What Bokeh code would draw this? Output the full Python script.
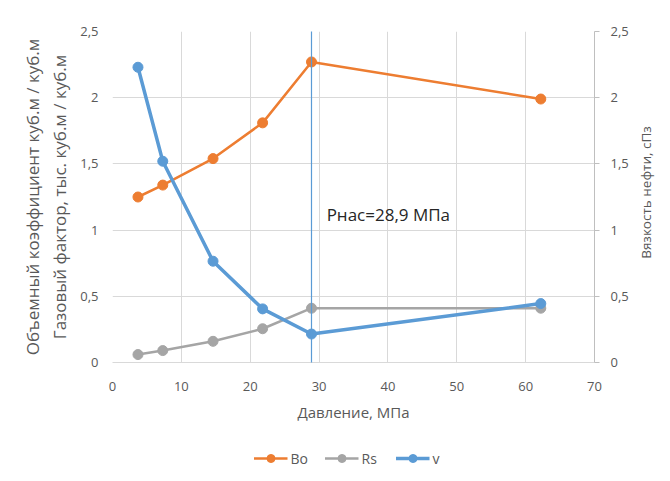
import math
from bokeh.plotting import figure
from bokeh.layouts import column, row
from bokeh.models import (Range1d, LinearAxis, Legend, LegendItem, Label, Arrow,
                          CustomJSTickFormatter, FixedTicker)
from bokeh.embed import file_html
from bokeh.resources import INLINE

# data
pressure = [3.7, 7.3, 14.6, 21.8, 28.9, 62.2]
bo = [1.25, 1.34, 1.54, 1.81, 2.27, 1.99]
rs = [0.06, 0.09, 0.16, 0.255, 0.41, 0.41]
visc = [2.23, 1.52, 0.765, 0.405, 0.215, 0.445]
p_sat = 28.9
x_ticks = [0, 10, 20, 30, 40, 50, 60, 70]
y_ticks = [0, 0.5, 1, 1.5, 2, 2.5]
series_names = ["Bo", "Rs", "v"]

FONT = "Open Sans"
TXT = "#595959"
ORANGE = "#ED7D31"
GRAY = "#A5A5A5"
BLUE = "#5B9BD5"

p = figure(width=632, height=424, output_backend="svg", toolbar_location=None,
           x_range=Range1d(0, 70), y_range=Range1d(0, 2.5),
           min_border_left=112, min_border_right=38, min_border_top=31,
           min_border_bottom=62)
p.extra_y_ranges = {"v": Range1d(0, 2.5)}
p.outline_line_color = None

fmt = CustomJSTickFormatter(code="return tick.toString().replace('.', ',');")

# x axis
xa = p.xaxis[0]
xa.ticker = FixedTicker(ticks=x_ticks)
xa.axis_line_color = "#d9d9d9"
xa.major_tick_line_color = None
xa.minor_tick_line_color = None
xa.major_label_standoff = 13
xa.major_label_text_font = FONT
xa.major_label_text_font_size = "13px"
xa.major_label_text_color = TXT
xa.axis_label = "Давление, МПа"
xa.axis_label_text_font = FONT
xa.axis_label_text_font_size = "15px"
xa.axis_label_text_font_style = "normal"
xa.axis_label_text_color = TXT
xa.axis_label_standoff = 8

# left y axis
ya = p.yaxis[0]
ya.ticker = FixedTicker(ticks=y_ticks)
ya.formatter = fmt
ya.axis_line_color = None
ya.major_tick_line_color = None
ya.minor_tick_line_color = None
ya.major_label_standoff = 8
ya.major_label_text_font = FONT
ya.major_label_text_font_size = "13px"
ya.major_label_text_color = TXT
ya.axis_label = "Объемный коэффициент куб.м / куб.м\nГазовый фактор, тыс. куб.м / куб.м"
ya.axis_label_text_font = FONT
ya.axis_label_text_font_size = "17px"
ya.axis_label_text_font_style = "normal"
ya.axis_label_text_color = TXT
ya.axis_label_standoff = 6

# right y axis (its title is drawn in a narrow strip to the right)
ra = LinearAxis(y_range_name="v", ticker=FixedTicker(ticks=y_ticks), formatter=fmt)
ra.axis_line_color = "#bfbfbf"
ra.major_tick_line_color = "#bfbfbf"
ra.major_tick_in = 0
ra.major_tick_out = 5
ra.minor_tick_line_color = None
ra.major_label_standoff = 11
ra.major_label_text_font = FONT
ra.major_label_text_font_size = "13px"
ra.major_label_text_color = TXT
p.add_layout(ra, "right")

p.xgrid.ticker = FixedTicker(ticks=x_ticks)
p.ygrid.ticker = FixedTicker(ticks=y_ticks)
p.xgrid.grid_line_color = "#d9d9d9"
p.ygrid.grid_line_color = "#d9d9d9"

p.line(pressure, bo, line_color=ORANGE, line_width=2.5)
p.scatter(pressure, bo, size=10, fill_color=ORANGE, line_color=ORANGE)
p.line(pressure, rs, line_color=GRAY, line_width=2.5)
p.scatter(pressure, rs, size=10, fill_color=GRAY, line_color=GRAY)
p.line(pressure, visc, line_color=BLUE, line_width=3.5, y_range_name="v")
p.scatter(pressure, visc, size=10, fill_color=BLUE, line_color=BLUE, y_range_name="v")

# saturation pressure line
p.add_layout(Arrow(x_start=p_sat, y_start=-0.1, x_end=p_sat, y_end=2.6,
                   end=None, line_color=BLUE, line_width=1.2))

p.add_layout(Label(x=31.1, y=1.12, text="Рнас=28,9 МПа", text_font=FONT,
                   text_font_size="17px", text_color="#262626",
                   text_baseline="middle", text_align="left"))

# right axis title strip
rt = figure(width=30, height=424, output_backend="svg", toolbar_location=None,
            x_range=Range1d(0, 30), y_range=Range1d(0, 424),
            x_axis_type=None, y_axis_type=None,
            min_border_left=0, min_border_right=0, min_border_top=0,
            min_border_bottom=0)
rt.outline_line_color = None
rt.grid.visible = False
rt.add_layout(Label(x=13, y=232, text="Вязкость нефти, сПз", angle=math.pi / 2,
                    text_font=FONT, text_font_size="13.5px", text_color=TXT,
                    text_align="center", text_baseline="middle"))

# legend strip (series drawn off-range, only their legend entries show)
lg = figure(width=632, height=50, output_backend="svg", toolbar_location=None,
            x_range=Range1d(0, 70), y_range=Range1d(10, 11),
            x_axis_type=None, y_axis_type=None,
            min_border_left=112, min_border_right=38, min_border_top=18,
            min_border_bottom=0)
lg.outline_line_color = None
lg.grid.visible = False
items = []
for name, ys, col, lw in zip(series_names, [bo, rs, visc], [ORANGE, GRAY, BLUE], [2.5, 2.5, 3.5]):
    r1 = lg.line(pressure, ys, line_color=col, line_width=lw)
    r2 = lg.scatter(pressure, ys, size=10, fill_color=col, line_color=col)
    items.append(LegendItem(label=name, renderers=[r1, r2]))
legend = Legend(items=items, orientation="horizontal", location="center",
                label_text_font=FONT, label_text_font_size="14px",
                label_text_color=TXT, border_line_color=None,
                background_fill_alpha=0, glyph_width=34, spacing=14,
                label_standoff=3, padding=0, margin=0)
lg.add_layout(legend, "center")

layout = row(column(p, lg, spacing=0), rt, spacing=0)
open("out.html", "w").write(file_html(layout, INLINE))
